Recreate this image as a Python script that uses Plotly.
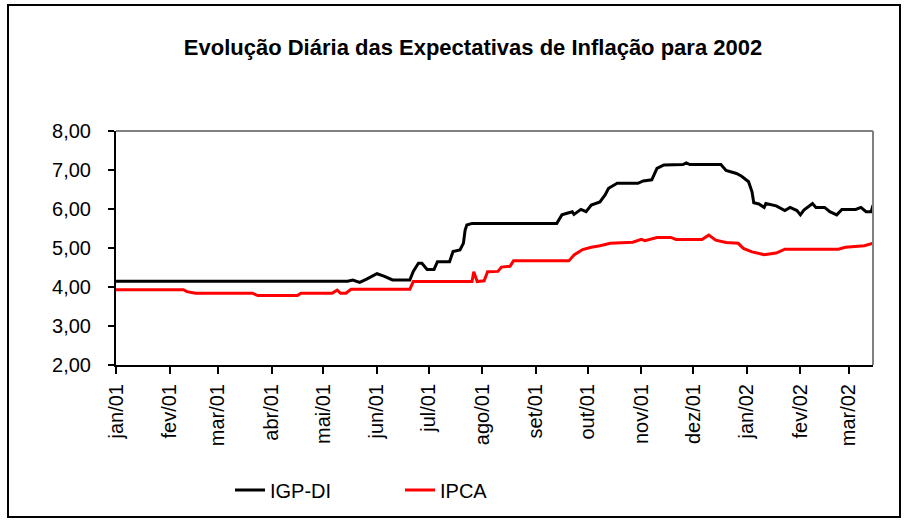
import plotly.graph_objects as go

# ---- data ----
igp_dates = ["2001-01-01", "2001-05-15", "2001-05-18", "2001-05-22", "2001-05-26", "2001-06-01",
             "2001-06-05", "2001-06-10", "2001-06-20", "2001-06-22", "2001-06-25", "2001-06-27",
             "2001-06-30", "2001-07-04", "2001-07-06", "2001-07-13", "2001-07-15", "2001-07-19",
             "2001-07-21", "2001-07-22", "2001-07-23", "2001-07-26", "2001-09-13", "2001-09-16",
             "2001-09-19", "2001-09-22", "2001-09-23", "2001-09-27", "2001-09-30", "2001-10-03",
             "2001-10-08", "2001-10-11", "2001-10-13", "2001-10-18", "2001-10-30", "2001-11-02",
             "2001-11-07", "2001-11-09", "2001-11-10", "2001-11-14", "2001-11-25", "2001-11-27",
             "2001-11-29", "2001-12-17", "2001-12-20", "2001-12-26", "2001-12-29", "2002-01-02",
             "2002-01-04", "2002-01-05", "2002-01-08", "2002-01-11", "2002-01-12", "2002-01-18",
             "2002-01-23", "2002-01-26", "2002-01-30", "2002-02-01", "2002-02-03", "2002-02-08",
             "2002-02-10", "2002-02-15", "2002-02-18", "2002-02-22", "2002-02-25", "2002-03-05",
             "2002-03-08", "2002-03-11", "2002-03-14", "2002-03-15"]
igp_values = [4.15, 4.15, 4.18, 4.12, 4.20, 4.34,
              4.28, 4.18, 4.18, 4.40, 4.61, 4.61,
              4.45, 4.45, 4.65, 4.65, 4.91, 4.95,
              5.12, 5.46, 5.59, 5.63, 5.63, 5.85,
              5.89, 5.93, 5.86, 5.99, 5.93, 6.10,
              6.18, 6.36, 6.53, 6.66, 6.66, 6.72,
              6.75, 6.95, 7.04, 7.13, 7.14, 7.18,
              7.14, 7.14, 6.99, 6.91, 6.84, 6.70,
              6.44, 6.16, 6.13, 6.04, 6.14, 6.08,
              5.96, 6.04, 5.96, 5.85, 5.97, 6.14,
              6.04, 6.04, 5.93, 5.85, 5.99, 5.99,
              6.04, 5.93, 5.93, 6.10]

ipca_dates = ["2001-01-01", "2001-02-09", "2001-02-11", "2001-02-16", "2001-03-21", "2001-03-24",
              "2001-04-16", "2001-04-18", "2001-05-06", "2001-05-09", "2001-05-11", "2001-05-14",
              "2001-05-17", "2001-06-20", "2001-06-22", "2001-07-26", "2001-07-27", "2001-07-29",
              "2001-08-02", "2001-08-04", "2001-08-10", "2001-08-12", "2001-08-17", "2001-08-19",
              "2001-09-20", "2001-09-23", "2001-09-28", "2001-10-03", "2001-10-08", "2001-10-14",
              "2001-10-27", "2001-11-01", "2001-11-03", "2001-11-10", "2001-11-18", "2001-11-21",
              "2001-12-06", "2001-12-10", "2001-12-14", "2001-12-20", "2001-12-27", "2001-12-30",
              "2002-01-04", "2002-01-11", "2002-01-18", "2002-01-23", "2002-02-23", "2002-02-27",
              "2002-03-10", "2002-03-15"]
ipca_values = [3.93, 3.93, 3.88, 3.84, 3.84, 3.78,
               3.78, 3.84, 3.84, 3.92, 3.84, 3.84,
               3.94, 3.94, 4.14, 4.14, 4.39, 4.14,
               4.16, 4.39, 4.40, 4.51, 4.53, 4.67,
               4.67, 4.82, 4.96, 5.02, 5.06, 5.12,
               5.15, 5.22, 5.19, 5.27, 5.27, 5.22,
               5.22, 5.33, 5.20, 5.14, 5.12, 4.99,
               4.90, 4.83, 4.87, 4.97, 4.97, 5.02,
               5.06, 5.12]

month_ticks = ["2001-01-01", "2001-02-01", "2001-03-01", "2001-04-01", "2001-05-01", "2001-06-01",
               "2001-07-01", "2001-08-01", "2001-09-01", "2001-10-01", "2001-11-01", "2001-12-01",
               "2002-01-01", "2002-02-01", "2002-03-01"]
month_labels = ["jan/01", "fev/01", "mar/01", "abr/01", "mai/01", "jun/01", "jul/01", "ago/01",
                "set/01", "out/01", "nov/01", "dez/01", "jan/02", "fev/02", "mar/02"]

title_text = "Evolução Diária das Expectativas de Inflação para 2002"

FONT = "Liberation Sans, Arial, sans-serif"

fig = go.Figure()
fig.add_trace(go.Scatter(x=igp_dates, y=igp_values, mode="lines", name="IGP-DI",
                         line=dict(color="#000000", width=3)))
fig.add_trace(go.Scatter(x=ipca_dates, y=ipca_values, mode="lines", name="IPCA",
                         line=dict(color="#FF0000", width=3)))

fig.update_layout(
    width=910, height=522,
    margin=dict(l=116, r=37, t=131, b=157, pad=0),
    paper_bgcolor="white", plot_bgcolor="white",
    separators=",.",
    font=dict(family=FONT, size=20, color="black"),
    title=dict(text="<b>" + title_text + "</b>", x=473 / 910, xref="container", xanchor="center",
               y=1 - 47 / 522, yref="container", yanchor="middle",
               font=dict(family=FONT, size=22, color="black")),
    showlegend=True,
    legend=dict(orientation="h", x=(230 - 116) / 757, xanchor="left", y=-0.534, yanchor="middle",
                font=dict(family=FONT, size=20, color="black"),
                entrywidth=125, entrywidthmode="pixels",
                bgcolor="rgba(0,0,0,0)", borderwidth=0, itemwidth=30),
    xaxis=dict(type="date", range=["2001-01-01", "2002-03-15"],
               tickmode="array", tickvals=month_ticks, ticktext=month_labels,
               tickangle=-90, ticks="outside", ticklen=7, tickwidth=2, tickcolor="black",
               showline=True, linecolor="black", linewidth=2,
               showgrid=False, zeroline=False,
               tickfont=dict(family=FONT, size=20, color="black"),
               ticklabelstandoff=2),
    yaxis=dict(range=[2, 8], dtick=1, tick0=2, tickformat=".2f",
               ticks="outside", ticklen=6, tickwidth=2, tickcolor="black",
               showline=True, linecolor="black", linewidth=2,
               showgrid=False, zeroline=False,
               tickfont=dict(family=FONT, size=20, color="black"),
               ticklabelstandoff=13),
)

# gray top and right border of the plot area
fig.add_shape(type="line", xref="paper", yref="paper", x0=0, x1=1, y0=1, y1=1,
              line=dict(color="#808080", width=2))
fig.add_shape(type="line", xref="paper", yref="paper", x0=1, x1=1, y0=0, y1=1,
              line=dict(color="#808080", width=2))
# outer chart frame
fig.add_shape(type="rect", xref="paper", yref="paper",
              x0=(8 - 116) / 757, x1=(900 - 116) / 757,
              y0=(365 - 517) / 234, y1=(365 - 5) / 234,
              line=dict(color="black", width=2), fillcolor="rgba(0,0,0,0)")

fig.write_html("out.html", config={"displayModeBar": False},
               post_script="document.body.style.margin='0';")
